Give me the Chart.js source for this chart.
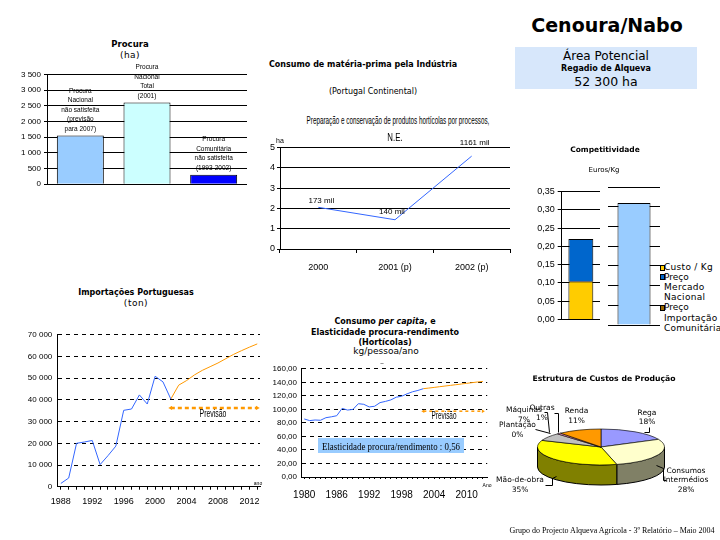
<!DOCTYPE html>
<html>
<head>
<meta charset="utf-8">
<title>Cenoura/Nabo</title>
<style>
    body { margin: 0; background: #fff; font-family: 'DejaVu Sans', Verdana, sans-serif; }
    #page { position: relative; width: 720px; height: 540px; overflow: hidden; }
    canvas { position: absolute; }
    .t { position: absolute; white-space: nowrap; color: #000; line-height: 1; text-align: center; }
    .m { transform: translate(-50%, -50%); }
    .b { font-weight: bold; }
    .nar { font-family: 'Liberation Sans Narrow', 'Liberation Sans', sans-serif; }
    .ser { font-family: 'Liberation Serif', 'DejaVu Serif', serif; }
    .lg { position: absolute; white-space: nowrap; font-size: 9px; line-height: 10.3px; }
    .sq { position: absolute; width: 3px; height: 4px; border: 1px solid #000; }
    .pl { font-size: 7.5px; line-height: 9.5px; }
</style>
<script src="https://cdn.jsdelivr.net/npm/chart.js"></script>
</head>
<body>
<div id="page">
    <canvas id="cProcura" width="250" height="132" style="left:0;top:60px"></canvas>
    <canvas id="cIndustria" width="252" height="134" style="left:262px;top:140px"></canvas>
    <canvas id="cCompA" width="82" height="145" style="left:520px;top:183px"></canvas>
    <canvas id="cCompB" width="52" height="150" style="left:608px;top:180px"></canvas>
    <canvas id="cImport" width="265" height="185" style="left:0;top:325px"></canvas>
    <canvas id="cCapita" width="228" height="139" style="left:265px;top:360px"></canvas>
    <canvas id="cCustos" width="220" height="128" style="left:500px;top:383px"></canvas>

    <!-- header -->
    <div class="t m b" style="left:607px;top:25px;font-size:19px">Cenoura/Nabo</div>
    <div style="position:absolute;left:515px;top:47px;width:182px;height:42px;background:#d7e7fb"></div>
    <div class="t m" style="left:606px;top:56px;font-size:12px">Área Potencial</div>
    <div class="t m b" style="left:606px;top:69px;font-size:8px">Regadio de Alqueva</div>
    <div class="t m" style="left:606px;top:82px;font-size:12.5px">52 300 ha</div>

    <!-- procura -->
    <div class="t m b" style="left:130px;top:44px;font-size:8.5px">Procura</div>
    <div class="t m" style="left:130px;top:55px;font-size:9px;letter-spacing:0.5px">(ha)</div>

    <!-- industria -->
    <div class="t b" style="left:269px;top:61px;font-size:8px">Consumo de matéria-prima pela Indústria</div>
    <div class="t m" style="left:373px;top:92px;font-size:8px">(Portugal Continental)</div>
    <div class="t m nar" data-w="183" style="left:398px;top:120px;font-size:11px">Preparação e conservação de produtos hortícolas por processos,</div>
    <div class="t m nar" data-w="15" style="left:395px;top:137px;font-size:11px">N.E.</div>
    <div class="t m nar" style="left:280px;top:140px;font-size:7px">ha</div>

    <!-- competitividade -->
    <div class="t m b" style="left:605px;top:150px;font-size:7.5px">Competitividade</div>
    <div class="t m" style="left:604px;top:170px;font-size:7px">Euros/Kg</div>
    <div class="sq" style="left:660px;top:265px;background:#ffcc00"></div>
    <div class="lg" style="left:664px;top:261.5px;letter-spacing:0.3px">Custo / Kg</div>
    <div class="sq" style="left:660px;top:274px;background:#0066cc"></div>
    <div class="lg" style="left:664px;top:271.5px">Preço</div>
    <div class="lg" style="left:664px;top:282px;letter-spacing:0.3px">Mercado<br>Nacional</div>
    <div class="sq" style="left:660px;top:305px;background:#996600"></div>
    <div class="lg" style="left:664px;top:302px">Preço</div>
    <div class="lg" style="left:664px;top:312.5px;letter-spacing:0.2px">Importação<br>Comunitária</div>

    <!-- importacoes -->
    <div class="t m b" style="left:136px;top:293px;font-size:8px">Importações Portuguesas</div>
    <div class="t m" style="left:136px;top:303px;font-size:9px;letter-spacing:0.5px">(ton)</div>
    <div class="t m nar" data-w="27" style="left:213px;top:413px;font-size:11px">Previsão</div>
    <div class="t m nar" style="left:258px;top:483px;font-size:5px">ano</div>

    <!-- consumo per capita -->
    <div class="t m b" style="left:385px;top:322px;font-size:8px">Consumo <i>per capita</i>, e</div>
    <div class="t m b" style="left:385px;top:333px;font-size:8px">Elasticidade procura-rendimento</div>
    <div class="t m b" style="left:385px;top:342.5px;font-size:8px">(Hortícolas)</div>
    <div class="t m" style="left:386px;top:351px;font-size:9px">kg/pessoa/ano</div>
    <div class="t m" style="left:382px;top:360px;font-size:6px">_</div>
    <div class="t m nar" data-w="25" style="left:444px;top:415px;font-size:11px">Previsão</div>
    <div class="t m nar" style="left:487px;top:485px;font-size:5px">Ano</div>
    <div style="position:absolute;left:318px;top:438px;width:146px;height:15px;background:#99ccff"></div>
    <div class="t m ser" data-w="138" style="left:391px;top:445.5px;font-size:11px">Elasticidade procura/rendimento : 0,56</div>

    <!-- custos -->
    <div class="t m b" style="left:604px;top:379px;font-size:7.7px">Estrutura de Custos de Produção</div>
    <div class="t m pl" style="left:647px;top:416.5px">Rega<br>18%</div>
    <div class="t m pl" style="left:686px;top:479.5px">Consumos<br>Intermédios<br>28%</div>
    <div class="t m pl" style="left:520px;top:484px">Mão-de-obra<br>35%</div>
    <div class="t m pl" style="left:517.5px;top:429px">Plantação<br>0%</div>
    <div class="t m pl" style="left:524px;top:414px">Máquinas<br>7%</div>
    <div class="t m pl" style="left:542px;top:412px">Outras<br>1%</div>
    <div class="t m pl" style="left:576.5px;top:415px">Renda<br>11%</div>

    <!-- footer -->
    <div class="t m ser" data-w="205" style="left:612px;top:531px;font-size:8px">Grupo do Projecto Alqueva Agrícola - 3º Relatório – Maio 2004</div>
</div>

<script>
    // ---- data ----
    const procuraCats = ['Nacional não satisfeita', 'Nacional Total', 'Comunitária não satisfeita'];
    const procuraValues = [1550, 2600, 300];
    const procuraNotes = [
        ['Procura', 'Nacional', 'não satisfeita', '(previsão', 'para 2007)'],
        ['Procura', 'Nacional', 'Total', '(2001)'],
        ['Procura', 'Comunitária', 'não satisfeita', '(1993-2002)']
    ];

    const industriaYears = ['2000', '2001 (p)', '2002 (p)'];
    const industriaValues = [2.05, 1.44, 4.57];
    const industriaNotes = ['173 mil', '140 mil', '1161 mil'];

    const compCats = ['Custo'];
    const compCusto = [0.105];
    const compMercado = [0.115];
    const compImport = [0.31];

    const impYears = [1988, 1989, 1990, 1991, 1992, 1993, 1994, 1995, 1996, 1997, 1998, 1999, 2000,
                      2001, 2002, 2003, 2004, 2005, 2006, 2007, 2008, 2009, 2010, 2011, 2012, 2013];
    const impReal = [1500, 4000, 20000, 20600, 21300, 10200, 14300, 18700, 35200, 35800, 42300, 38100, 50900,
                     48300, 40400, null, null, null, null, null, null, null, null, null, null, null];
    const impPrev = [null, null, null, null, null, null, null, null, null, null, null, null, null,
                     null, 40400, 46800, 48900, 51500, 53600, 55300, 57000, 59000, 61000, 62700, 64300, 65800];
    const impPrevisao = 36300;

    const capYears = [1980, 1981, 1982, 1983, 1984, 1985, 1986, 1987, 1988, 1989, 1990, 1991, 1992, 1993,
                      1994, 1995, 1996, 1997, 1998, 1999, 2000, 2001, 2002, 2003, 2004, 2005, 2006, 2007,
                      2008, 2009, 2010, 2011, 2012, 2013];
    const capReal = [85.8, 83.4, 84.3, 83.9, 87.7, 89, 90.6, 101.5, 99, 100, 108.4, 107.5, 103.6, 104.6,
                     110, 111.8, 114, 118, 119.5, 123, 126, 128, 130.6, null, null, null, null, null,
                     null, null, null, null, null, null];
    const capPrev = [null, null, null, null, null, null, null, null, null, null, null, null, null, null,
                     null, null, null, null, null, null, null, null, 130.6, 131.5, 132.5, 133.5, 134.5, 135.5,
                     136.5, 137.5, 138.5, 139.5, 140.5, 141.3];
    const capPrevisao = 97.3;

    const custosLabels = ['Rega', 'Consumos Intermédios', 'Mão-de-obra', 'Plantação', 'Máquinas', 'Outras', 'Renda'];
    const custosValues = [18, 28, 35, 0, 7, 1, 11];

    // ---- helpers ----
    const NARROW = "'Liberation Sans Narrow', 'Liberation Sans', sans-serif";
    Chart.defaults.animation = false;
    Chart.defaults.responsive = false;
    Chart.defaults.plugins.legend.display = false;
    Chart.defaults.plugins.tooltip.enabled = false;
    Chart.defaults.color = '#000';
    Chart.defaults.font.family = "'DejaVu Sans', sans-serif";

    const spaced = v => v === 0 ? '0' : Math.round(v).toString().replace(/\B(?=(\d{3})+(?!\d))/g, ' ');
    const comma = v => v.toFixed(2).replace('.', ',');
    const xy = (xs, ys) => xs.map((x, i) => ({ x: x, y: ys[i] }));

    const barNotes = {
        id: 'barNotes',
        afterDatasetsDraw(chart, args, opts) {
            const ctx = chart.ctx;
            chart.getDatasetMeta(0).data.forEach((bar, i) => {
                const lines = opts.lines[i];
                ctx.save();
                ctx.font = opts.font;
                ctx.fillStyle = '#000';
                ctx.textAlign = 'center';
                ctx.textBaseline = 'middle';
                lines.forEach((ln, j) => {
                    ctx.fillText(ln, bar.x, bar.y - opts.gap - (lines.length - 1 - j) * opts.lineH);
                });
                ctx.restore();
            });
        }
    };

    const pointNotes = {
        id: 'pointNotes',
        afterDatasetsDraw(chart, args, opts) {
            const ctx = chart.ctx;
            chart.getDatasetMeta(0).data.forEach((pt, i) => {
                ctx.save();
                ctx.font = opts.font;
                ctx.fillStyle = '#000';
                ctx.textAlign = 'center';
                ctx.textBaseline = 'middle';
                ctx.fillText(opts.texts[i], pt.x + opts.shift[i][0], pt.y + opts.shift[i][1]);
                ctx.restore();
            });
        }
    };

    const pie3d = {
        id: 'pie3d',
        beforeDatasetsDraw(chart, args, opts) {
            const ctx = chart.ctx;
            const arcs = chart.getDatasetMeta(0).data;
            const cx = arcs[0].x, cy = arcs[0].y, r = arcs[0].outerRadius;
            const ry = r * opts.squash;
            arcs.forEach((a, i) => {
                const s = Math.max(a.startAngle, 0), e = Math.min(a.endAngle, Math.PI);
                if (e <= s) return;
                ctx.save();
                ctx.beginPath();
                ctx.ellipse(cx, cy, r, ry, 0, s, e);
                ctx.ellipse(cx, cy + opts.depth, r, ry, 0, e, s, true);
                ctx.closePath();
                ctx.fillStyle = opts.sides[i];
                ctx.fill();
                ctx.strokeStyle = '#000';
                ctx.lineWidth = 1;
                ctx.stroke();
                ctx.restore();
            });
            ctx.save();
            ctx.translate(0, cy);
            ctx.scale(1, opts.squash);
            ctx.translate(0, -cy);
        },
        afterDatasetsDraw(chart) {
            chart.ctx.restore();
        },
        afterDraw(chart, args, opts) {
            const ctx = chart.ctx;
            ctx.save();
            ctx.strokeStyle = '#000';
            ctx.lineWidth = 1;
            opts.leaders.forEach(pts => {
                ctx.beginPath();
                pts.forEach((p, k) => k ? ctx.lineTo(p[0] + 0.5, p[1] + 0.5) : ctx.moveTo(p[0] + 0.5, p[1] + 0.5));
                ctx.stroke();
            });
            ctx.restore();
        }
    };

    // ---- Procura ----
    new Chart(document.getElementById('cProcura'), {
        type: 'bar',
        data: {
            labels: procuraCats,
            datasets: [{
                data: procuraValues,
                backgroundColor: ['#99ccff', '#ccffff', '#0000ff'],
                borderColor: '#000',
                borderWidth: 1,
                categoryPercentage: 1,
                barPercentage: 0.705
            }]
        },
        options: {
            layout: { padding: { top: 14.3, bottom: 4.7, right: 3, left: 0 } },
            scales: {
                x: { display: false },
                y: {
                    min: 0, max: 3500,
                    ticks: { stepSize: 500, padding: 3, autoSkip: false, font: { family: NARROW, size: 8 }, callback: spaced },
                    grid: { color: '#000', tickLength: 3 },
                    border: { color: '#000' },
                    afterFit: s => { s.width = 47; }
                }
            },
            plugins: {
                barNotes: { lines: procuraNotes, font: "6.5px 'Liberation Sans', sans-serif", gap: 6.8, lineH: 9.5 }
            }
        },
        plugins: [barNotes]
    });

    // ---- Consumo industria ----
    new Chart(document.getElementById('cIndustria'), {
        type: 'line',
        data: {
            labels: industriaYears,
            datasets: [{
                data: industriaValues,
                borderColor: '#3366ff',
                borderWidth: 1,
                pointRadius: 0,
                tension: 0
            }]
        },
        options: {
            layout: { padding: { top: 7.3, right: 4, bottom: 0, left: 0 } },
            scales: {
                x: {
                    offset: true,
                    grid: { offset: true, drawOnChartArea: false, tickLength: 4, color: '#000' },
                    border: { color: '#000' },
                    ticks: { padding: 9, font: { family: NARROW, size: 9 }, maxRotation: 0 },
                    afterFit: s => { s.height = 25; }
                },
                y: {
                    min: 0, max: 5,
                    ticks: { stepSize: 1, padding: 2, autoSkip: false, font: { family: NARROW, size: 9 } },
                    grid: { color: '#000', tickLength: 3 },
                    border: { color: '#000' },
                    afterFit: s => { s.width = 18; }
                }
            },
            plugins: {
                pointNotes: {
                    texts: industriaNotes,
                    font: "8px " + NARROW,
                    shift: [[3, -7], [-3, -8], [3, -13]]
                }
            }
        },
        plugins: [pointNotes]
    });

    // ---- Competitividade ----
    new Chart(document.getElementById('cCompA'), {
        type: 'bar',
        data: {
            labels: compCats,
            datasets: [
                { data: compCusto, backgroundColor: '#ffcc00', borderColor: '#000', borderWidth: 1, categoryPercentage: 1, barPercentage: 0.65 },
                { data: compMercado, backgroundColor: '#0066cc', borderColor: '#000', borderWidth: 1, categoryPercentage: 1, barPercentage: 0.65 }
            ]
        },
        options: {
            layout: { padding: { top: 7, bottom: 6.3, right: 2, left: 0 } },
            scales: {
                x: { display: false, stacked: true },
                y: {
                    stacked: true, min: 0, max: 0.35,
                    ticks: { stepSize: 0.05, padding: 3, autoSkip: false, font: { family: "'Liberation Sans', sans-serif", size: 9 }, callback: comma },
                    grid: { color: '#000', tickLength: 4 },
                    border: { color: '#000' },
                    afterFit: s => { s.width = 41.7; }
                }
            }
        }
    });

    new Chart(document.getElementById('cCompB'), {
        type: 'bar',
        data: {
            labels: ['Importação'],
            datasets: [{ data: compImport, backgroundColor: '#99ccff', borderColor: '#000', borderWidth: 1, categoryPercentage: 1, barPercentage: 0.635 }]
        },
        options: {
            layout: { padding: { top: 7.3, bottom: 5, right: 0, left: 0 } },
            scales: {
                x: { display: false },
                y: {
                    min: 0, max: 0.35,
                    ticks: { stepSize: 0.05, display: false },
                    grid: { color: '#000', tickLength: 0 },
                    border: { display: false },
                    afterFit: s => { s.width = 0; }
                }
            }
        }
    });

    // ---- Importacoes ----
    new Chart(document.getElementById('cImport'), {
        type: 'line',
        data: {
            datasets: [
                { data: xy(impYears, impReal), borderColor: '#3366ff', borderWidth: 1, pointRadius: 0 },
                { data: xy(impYears, impPrev), borderColor: '#ff9900', borderWidth: 1, pointRadius: 0 },
                {
                    data: [{ x: impYears[14], y: impPrevisao }, { x: impYears[25], y: impPrevisao }],
                    borderColor: '#ff9900', backgroundColor: '#ff9900', borderWidth: 2.5, borderDash: [4, 3],
                    pointStyle: 'triangle', pointRadius: 2.5, pointRotation: [-90, 90], pointBorderWidth: 0
                }
            ]
        },
        options: {
            layout: { padding: { top: 5.7, right: 5, bottom: 0, left: 0 } },
            scales: {
                x: {
                    type: 'linear', min: 1987.55, max: 2013.35,
                    afterBuildTicks: s => { s.ticks = impYears.map(v => ({ value: v })); },
                    ticks: {
                        autoSkip: false, maxRotation: 0, padding: 6,
                        font: { family: NARROW, size: 9 },
                        callback: v => ((v - 1988) % 4 === 0 ? String(v) : '')
                    },
                    grid: { drawOnChartArea: false, tickLength: 3, color: '#000' },
                    border: { color: '#000' },
                    afterFit: s => { s.height = 23.3; }
                },
                y: {
                    min: 0, max: 70000,
                    ticks: { stepSize: 10000, padding: 5, autoSkip: false, font: { family: NARROW, size: 8 }, callback: spaced },
                    grid: { color: '#000', tickLength: 0 },
                    border: { color: '#000', dash: [4, 4] },
                    afterFit: s => { s.width = 57.3; }
                }
            }
        }
    });

    // ---- Consumo per capita ----
    new Chart(document.getElementById('cCapita'), {
        type: 'line',
        data: {
            datasets: [
                { data: xy(capYears, capReal), borderColor: '#3366ff', borderWidth: 1, pointRadius: 0 },
                { data: xy(capYears, capPrev), borderColor: '#ff9900', borderWidth: 1, pointRadius: 0 },
                {
                    data: [{ x: capYears[22], y: capPrevisao }, { x: capYears[33], y: capPrevisao }],
                    borderColor: '#ff9900', backgroundColor: '#ff9900', borderWidth: 1.5, borderDash: [3, 3],
                    pointStyle: 'triangle', pointRadius: 2, pointRotation: [-90, 90], pointBorderWidth: 0
                }
            ]
        },
        options: {
            layout: { padding: { top: 6.5, right: 5, bottom: 0, left: 0 } },
            scales: {
                x: {
                    type: 'linear', min: 1979.4, max: 2013.8,
                    afterBuildTicks: s => { s.ticks = capYears.map(v => ({ value: v })); },
                    ticks: {
                        autoSkip: false, maxRotation: 0, padding: 10,
                        font: { family: NARROW, size: 10 },
                        callback: v => ((v - 1980) % 6 === 0 ? String(v) : '')
                    },
                    grid: { drawOnChartArea: false, tickLength: 2, color: '#000' },
                    border: { color: '#000' },
                    afterFit: s => { s.height = 22; }
                },
                y: {
                    min: 0, max: 160,
                    ticks: { stepSize: 20, padding: 4, autoSkip: false, font: { family: NARROW, size: 8 }, callback: comma },
                    grid: { color: '#000', tickLength: 0 },
                    border: { color: '#000', dash: [4, 4] },
                    afterFit: s => { s.width = 36; }
                }
            }
        }
    });

    // ---- Estrutura de custos (pie) ----
    new Chart(document.getElementById('cCustos'), {
        type: 'pie',
        data: {
            labels: custosLabels,
            datasets: [{
                data: custosValues,
                backgroundColor: ['#9999ff', '#ffffcc', '#ffff00', '#993366', '#c0c0c0', '#ff99cc', '#ff9900'],
                borderColor: '#000',
                borderWidth: 1
            }]
        },
        options: {
            layout: { padding: { left: 37, right: 55, top: 0, bottom: 0 } },
            plugins: {
                pie3d: {
                    squash: 18 / 63.5,
                    depth: 20,
                    sides: ['#4d4d80', '#808066', '#808000', '#4d1a33', '#606060', '#804d66', '#804d00'],
                    leaders: [
                        [[149, 44], [149, 49], [144, 49]],
                        [[156, 82], [163, 85], [163, 97], [166, 97]],
                        [[45, 102], [52, 102], [52, 95], [56, 93]],
                        [[35, 46], [50, 50]],
                        [[44, 29], [47, 29], [49, 49]],
                        [[54, 30], [58, 30], [58, 49]]
                    ]
                }
            }
        },
        plugins: [pie3d]
    });

    // squeeze narrow texts to their measured width
    document.querySelectorAll('[data-w]').forEach(el => {
        const s = (+el.dataset.w) / el.offsetWidth;
        el.style.transform = 'translate(-50%, -50%) scaleX(' + s + ')';
    });
</script>
</body>
</html>
